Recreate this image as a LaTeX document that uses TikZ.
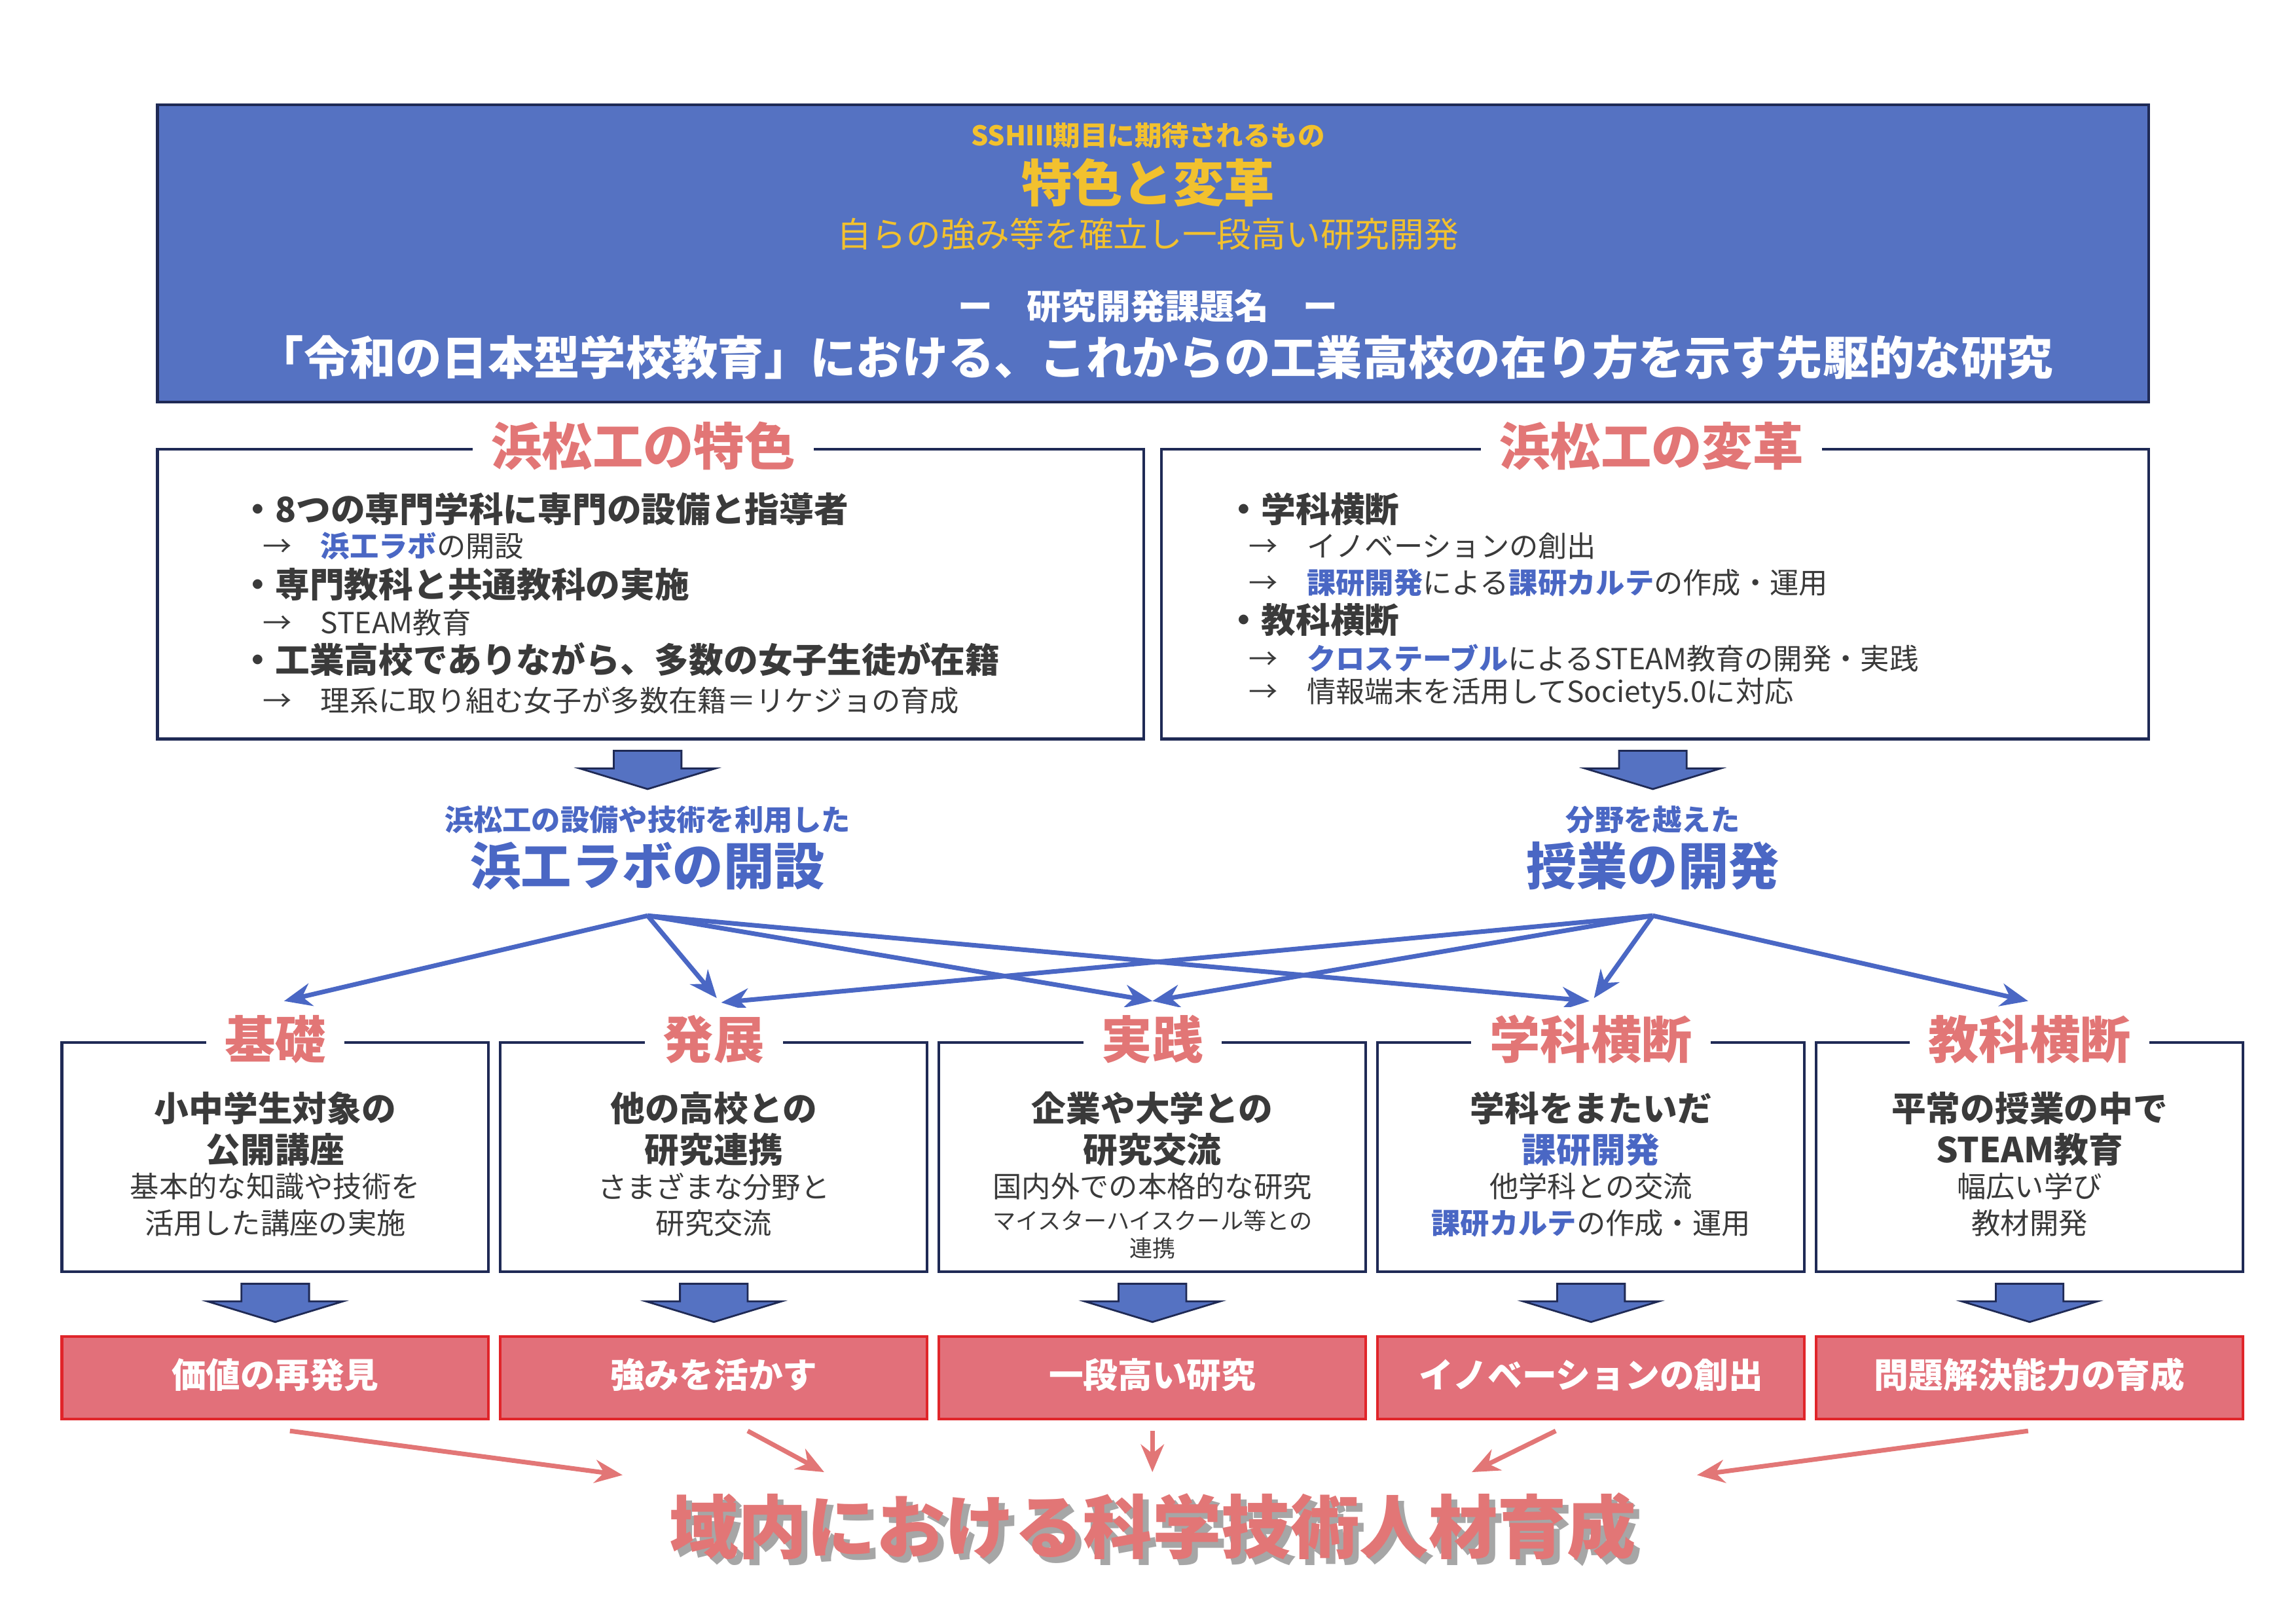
\documentclass[tikz,border=0pt]{standalone}
\usepackage{fontspec}
\setmainfont{Noto Sans CJK JP}
\usetikzlibrary{positioning,arrows.meta}
\definecolor{topblue}{HTML}{5572C2}
\definecolor{navy}{HTML}{1F2A55}
\definecolor{gold}{HTML}{F2C12E}
\definecolor{rose}{HTML}{E27676}
\definecolor{redbox}{HTML}{E2707A}
\definecolor{redline}{HTML}{E0252A}
\definecolor{linkblue}{HTML}{4A67C4}
\definecolor{txt}{HTML}{3A3A3A}
\newcommand{\kb}[1]{\textcolor{linkblue}{\bfseries #1}}
\tikzset{
  frame/.style={draw=navy, line width=1.2pt},
  head/.style={fill=white, text=rose, font=\fontsize{22}{24}\selectfont\bfseries, inner xsep=8pt},
  bold/.style={text=txt, font=\fontsize{15}{17}\selectfont\bfseries},
  plain/.style={text=txt, font=\fontsize{12.6}{14}\selectfont},
  item/.style={anchor=west, text=txt},
  tag/.style={text=white, font=\fontsize{15}{17}\selectfont\bfseries},
  down/.style={fill=topblue, draw=navy, line width=0.8pt},
  link/.style={draw=linkblue, line width=2pt, -{Stealth[length=12pt,width=10pt]}},
  goal/.style={draw=rose, line width=2pt, -{Stealth[length=12pt,width=10pt]}}
}
\begin{document}
\begin{tikzpicture}[x=0.02248cm,y=-0.02248cm]
\useasboundingbox (0,0) rectangle (1560,1103);

% top box
\draw[frame, fill=topblue] (107,71) rectangle (1460,273);
\node[text=gold, font=\fontsize{11.8}{13}\selectfont\bfseries] (ssh) at (780,92) {SSHⅢ期目に期待されるもの};
\node[text=gold, font=\fontsize{22}{24}\selectfont\bfseries] (kakushin) at (780,124) {特色と変革};
\node[text=gold, font=\fontsize{15}{17}\selectfont] (sub) at (780,159) {自らの強み等を確立し一段高い研究開発};
\node[text=white, font=\fontsize{15}{17}\selectfont\bfseries] (kadai) at (780,208) {ー　研究開発課題名　ー};
\node[text=white, font=\fontsize{20}{22}\selectfont\bfseries] (title) at (785,243) {「令和の日本型学校教育」における、これからの工業高校の在り方を示す先駆的な研究};

% two middle boxes
\draw[frame] (107,305) rectangle (777,502);
\draw[frame] (789,305) rectangle (1460,502);
\node[head] (tokushoku) at (437,303) {浜松工の特色};
\node[head] (henkaku) at (1122,303) {浜松工の変革};

\node[item, bold] (l1) at (158,346) {・8つの専門学科に専門の設備と指導者};
\node[item, plain] (l2) at (173,371) {→　\kb{浜工ラボ}の開設};
\node[item, bold] (l3) at (158,397) {・専門教科と共通教科の実施};
\node[item, plain] (l4) at (173,423) {→　STEAM教育};
\node[item, bold] (l5) at (158,448) {・工業高校でありながら、多数の女子生徒が在籍};
\node[item, plain] (l6) at (173,476) {→　理系に取り組む女子が多数在籍＝リケジョの育成};

\node[item, bold] (r1) at (828,346) {・学科横断};
\node[item, plain] (r2) at (843,371) {→　イノベーションの創出};
\node[item, plain] (r3) at (843,396) {→　\kb{課研開発}による\kb{課研カルテ}の作成・運用};
\node[item, bold] (r4) at (828,421) {・教科横断};
\node[item, plain] (r5) at (843,447) {→　\kb{クロステーブル}によるSTEAM教育の開発・実践};
\node[item, plain] (r6) at (843,471) {→　情報端末を活用してSociety5.0に対応};

% block arrows
\foreach \x in {440,1123}
  \draw[down] (\x-23,510) -- (\x+23,510) -- (\x+23,522) -- (\x+46,522) -- (\x,536) -- (\x-46,522) -- (\x-23,522) -- cycle;

\node[text=linkblue, font=\fontsize{12.6}{14}\selectfont\bfseries] (labsub) at (440,557) {浜松工の設備や技術を利用した};
\node[text=linkblue, font=\fontsize{22}{24}\selectfont\bfseries] (lab) at (440,588) {浜工ラボの開設};
\node[text=linkblue, font=\fontsize{12.6}{14}\selectfont\bfseries] (jugyosub) at (1123,557) {分野を越えた};
\node[text=linkblue, font=\fontsize{22}{24}\selectfont\bfseries] (jugyo) at (1123,588) {授業の開発};

\coordinate (ls) at (440,622);
\coordinate (rs) at (1123,622);
\coordinate (t1) at (193,680);
\coordinate (t2a) at (487,678);
\coordinate (t2b) at (490,681);
\coordinate (t3) at (783,680);
\coordinate (t4a) at (1080,680);
\coordinate (t4b) at (1083,678);
\coordinate (t5) at (1378,680);
\draw[link] (ls) -- (t1);
\draw[link] (ls) -- (t2a);
\draw[link] (ls) -- (t3);
\draw[link] (ls) -- (t4a);
\draw[link] (rs) -- (t2b);
\draw[link] (rs) -- (t3);
\draw[link] (rs) -- (t4b);
\draw[link] (rs) -- (t5);

% five boxes
\foreach \i/\h/\r in {1/基礎/価値の再発見, 2/発展/強みを活かす, 3/実践/一段高い研究, 4/学科横断/イノベーションの創出, 5/教科横断/問題解決能力の育成} {
  \pgfmathsetmacro{\xl}{42+298*(\i-1)}
  \pgfmathsetmacro{\xc}{\xl+145}
  \draw[frame] (\xl,708) rectangle (\xl+290,864);
  \node[head] (h\i) at (\xc,706) {\h};
  \draw[down] (\xc-23,872) -- (\xc+23,872) -- (\xc+23,884) -- (\xc+46,884) -- (\xc,898) -- (\xc-46,884) -- (\xc-23,884) -- cycle;
  \draw[fill=redbox, draw=redline, line width=1.2pt] (\xl,908) rectangle (\xl+290,964);
  \node[tag] (g\i) at (\xc,934) {\r};
}

\node[bold] (b1a) at (187,753) {小中学生対象の};
\node[bold] (b1b) at (187,781) {公開講座};
\node[plain] (b1c) at (187,806) {基本的な知識や技術を};
\node[plain] (b1d) at (187,831) {活用した講座の実施};

\node[bold] (b2a) at (485,753) {他の高校との};
\node[bold] (b2b) at (485,781) {研究連携};
\node[plain] (b2c) at (485,806) {さまざまな分野と};
\node[plain] (b2d) at (485,831) {研究交流};

\node[bold] (b3a) at (783,753) {企業や大学との};
\node[bold] (b3b) at (783,781) {研究交流};
\node[plain] (b3c) at (783,806) {国内外での本格的な研究};
\node[text=txt, font=\fontsize{10}{11}\selectfont] (b3d) at (783,829) {マイスターハイスクール等との};
\node[text=txt, font=\fontsize{10}{11}\selectfont] (b3e) at (783,848) {連携};

\node[bold] (b4a) at (1081,753) {学科をまたいだ};
\node[bold, text=linkblue] (b4b) at (1081,781) {課研開発};
\node[plain] (b4c) at (1081,806) {他学科との交流};
\node[plain] (b4d) at (1081,831) {\kb{課研カルテ}の作成・運用};

\node[bold] (b5a) at (1379,753) {平常の授業の中で};
\node[bold] (b5b) at (1379,781) {STEAM教育};
\node[plain] (b5c) at (1379,806) {幅広い学び};
\node[plain] (b5d) at (1379,831) {教材開発};

% final goal
\node[text=black!35, font=\fontsize{30}{32}\selectfont\bfseries] (shadow) at (787,1041) {域内における科学技術人材育成};
\node[text=rose, font=\fontsize{30}{32}\selectfont\bfseries] (jinzai) at (783,1037) {域内における科学技術人材育成};
\coordinate (s1) at (197,972);  \coordinate (e1) at (423,1002);
\coordinate (s2) at (508,972);  \coordinate (e2) at (560,1000);
\coordinate (s3) at (783,972);  \coordinate (e3) at (783,1000);
\coordinate (s4) at (1057,972); \coordinate (e4) at (1000,1000);
\coordinate (s5) at (1378,972); \coordinate (e5) at (1153,1002);
\foreach \k in {1,...,5}
  \draw[goal] (s\k) -- (e\k);
\end{tikzpicture}
\end{document}
